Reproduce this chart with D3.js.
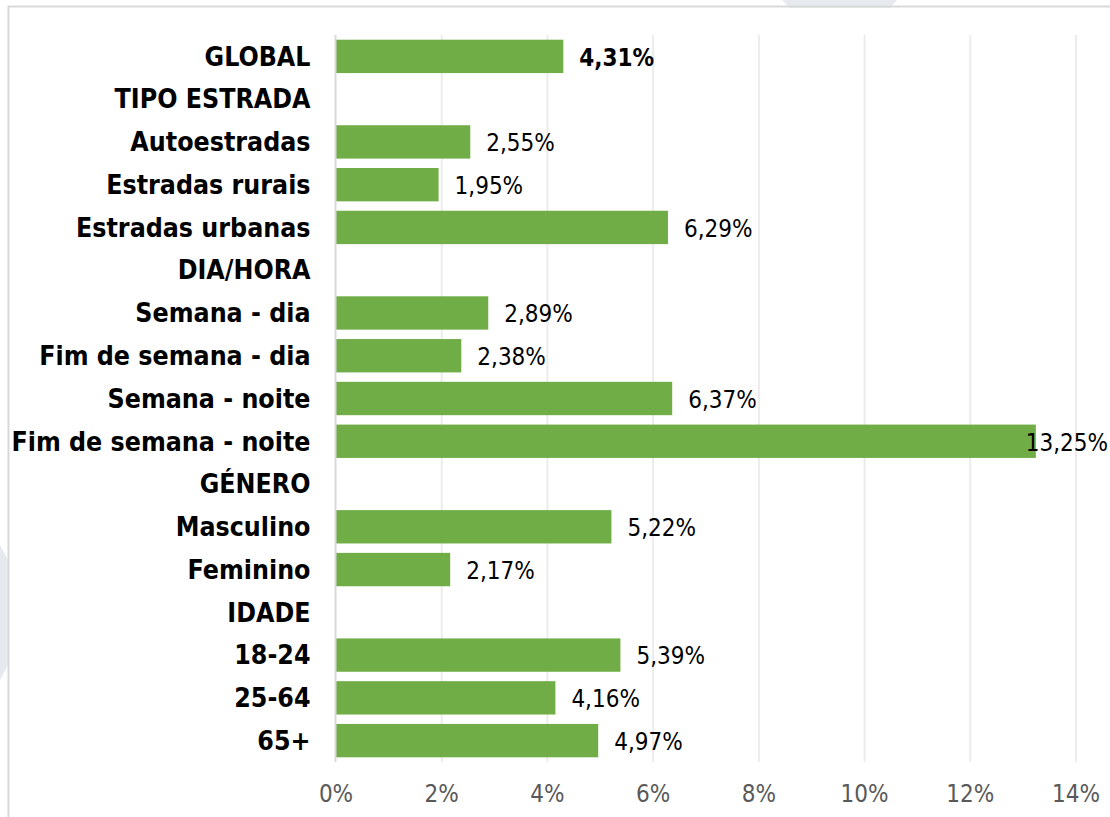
<!DOCTYPE html>
<html>
<head>
<meta charset="utf-8">
<script src="https://cdn.jsdelivr.net/npm/d3@7"></script>
<style>
  body { margin: 0; background: #ffffff; }
  svg { display: block; }
</style>
</head>
<body>
<div id="chart"></div>
<script>
// categories (top to bottom) and values in percent; null = section header
var categories = ["GLOBAL", "TIPO ESTRADA", "Autoestradas", "Estradas rurais", "Estradas urbanas",
  "DIA/HORA", "Semana - dia", "Fim de semana - dia", "Semana - noite", "Fim de semana - noite",
  "GÉNERO", "Masculino", "Feminino", "IDADE", "18-24", "25-64", "65+"];
var values = [4.31, null, 2.55, 1.95, 6.29, null, 2.89, 2.38, 6.37, 13.25, null, 5.22, 2.17, null, 5.39, 4.16, 4.97];
var valueLabels = ["4,31%", "", "2,55%", "1,95%", "6,29%", "", "2,89%", "2,38%", "6,37%", "13,25%",
  "", "5,22%", "2,17%", "", "5,39%", "4,16%", "4,97%"];
var xTicks = [0, 2, 4, 6, 8, 10, 12, 14];

var width = 1110;
var height = 817;

var plot = {
  top: 35,
  bottom: 762,
  left: 335.5,
  right: 1075.5
}

var fontFamily = "'DejaVu Sans Condensed', 'DejaVu Sans', sans-serif";

var data = categories.map(function(c, i) {
  return { cat: c, value: values[i], label: valueLabels[i] };
});

var xScale = d3.scaleLinear().domain([0, 14]).range([plot.left, plot.right]);
var yScale = d3.scaleBand().domain(categories).range([plot.top, plot.bottom]).paddingInner(0.22).paddingOuter(0.11);

var svg = d3.select("#chart")
  .append("svg")
  .attr("width", width)
  .attr("height", height);

//Faint watermark shapes
svg.append("path")
  .attr("d", "M782,0 L897,0 L890,8 L790,8 Z")
  .style("fill", "#e6eaef");
svg.append("path")
  .attr("d", "M0,545 L8,560 L8,665 L0,680 Z")
  .style("fill", "#e6eaef");

//Outer chart border
svg.append("rect")
  .attr("x", 8.5)
  .attr("y", 6.5)
  .attr("width", width + 20)
  .attr("height", height + 20)
  .style("fill", "none")
  .style("stroke", "#d9d9d9")
  .style("stroke-width", 2);

//Gridlines
svg.append("g")
  .attr("transform", "translate(0," + plot.bottom + ")")
  .call(d3.axisBottom(xScale).tickValues(xTicks.slice(1)).tickSize(-(plot.bottom - plot.top)).tickFormat(""))
  .call(function(g) { g.select(".domain").remove(); })
  .selectAll("line")
  .style("stroke", "#ececec")
  .style("stroke-width", 2);

//Bars
svg.selectAll("rect.bar")
  .data(data.filter(function(d) { return d.value !== null; }))
  .enter()
  .append("rect")
  .attr("class", "bar")
  .attr("x", xScale(0))
  .attr("y", function(d) { return yScale(d.cat); })
  .attr("width", function(d) { return xScale(d.value) - xScale(0); })
  .attr("height", yScale.bandwidth())
  .style("fill", "#70ad47");

//Zero axis line
svg.append("line")
  .attr("x1", xScale(0))
  .attr("x2", xScale(0))
  .attr("y1", plot.top)
  .attr("y2", plot.bottom)
  .style("stroke", "#d9d9d9")
  .style("stroke-width", 2);

//Category labels
svg.append("g")
  .attr("transform", "translate(" + (plot.left - 25) + ",0)")
  .call(d3.axisLeft(yScale).tickSize(0).tickPadding(0))
  .call(function(g) { g.select(".domain").remove(); })
  .selectAll("text")
  .style("font-family", fontFamily)
  .style("font-size", "26.5px")
  .style("font-weight", "bold")
  .style("fill", "#000000")
  .attr("dy", "0.35em");

//Value labels
svg.selectAll("text.val")
  .data(data.filter(function(d) { return d.value !== null; }))
  .enter()
  .append("text")
  .attr("class", "val")
  .attr("x", function(d) { return xScale(d.value) + 16; })
  .attr("y", function(d) { return yScale(d.cat) + yScale.bandwidth() / 2 + 1; })
  .attr("dy", "0.35em")
  .style("font-family", fontFamily)
  .style("font-size", "24px")
  .style("font-weight", function(d) { return d.cat === "GLOBAL" ? "bold" : "normal"; })
  .style("fill", "#000000")
  .text(function(d) { return d.label; })
  .each(function() {
    // keep labels inside the chart area, like the original
    var w = this.getComputedTextLength();
    var x = +d3.select(this).attr("x");
    if (x + w > width - 2) d3.select(this).attr("x", width - 2 - w);
  });

//X axis tick labels
svg.append("g")
  .attr("transform", "translate(0," + plot.bottom + ")")
  .call(d3.axisBottom(xScale).tickValues(xTicks).tickSize(0).tickPadding(23).tickFormat(function(d) { return d + "%"; }))
  .call(function(g) { g.select(".domain").remove(); })
  .selectAll("text")
  .style("font-family", fontFamily)
  .style("font-size", "24px")
  .style("fill", "#595959");
</script>
</body>
</html>
